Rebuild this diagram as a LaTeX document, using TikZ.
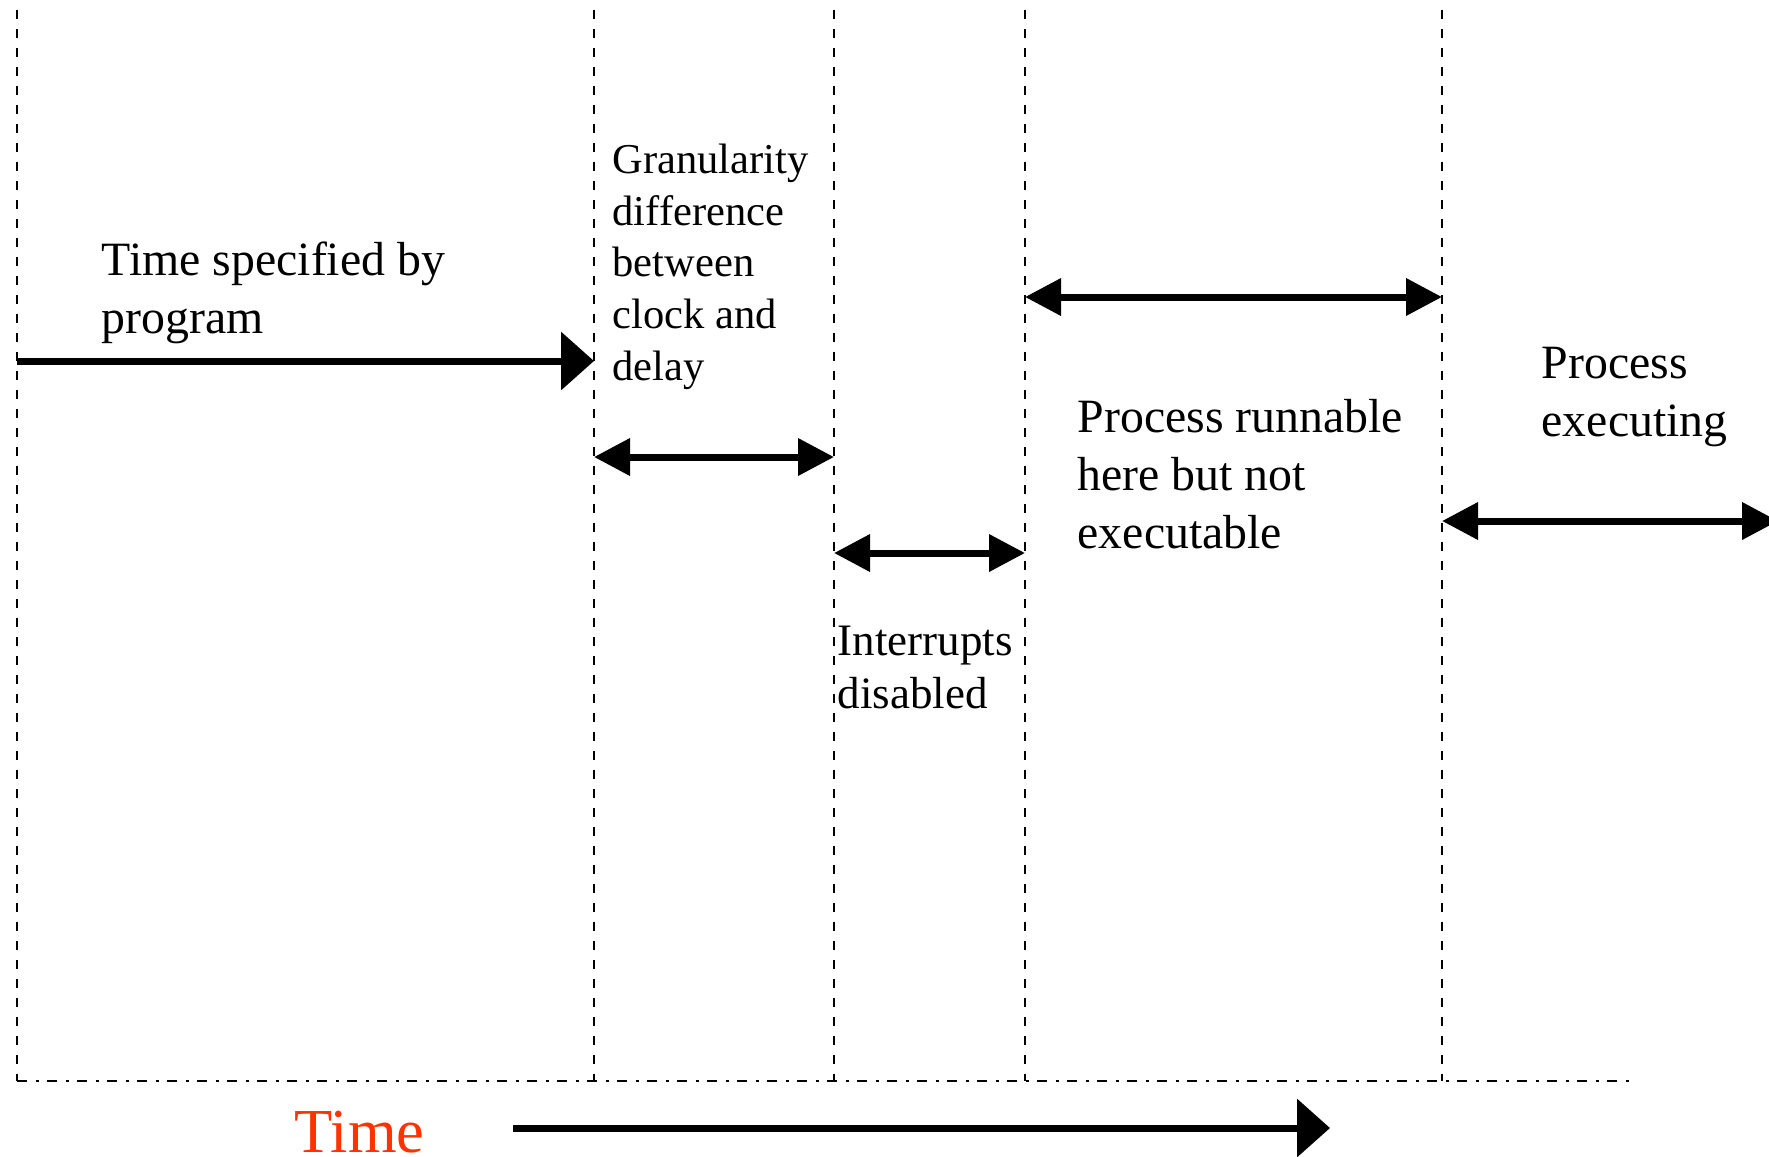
\documentclass[tikz,border=0pt]{standalone}
\usepackage{fontspec}
\setmainfont{Liberation Serif}
\usetikzlibrary{arrows.meta}
\definecolor{timered}{HTML}{FF3300}
\tikzset{
  tguide/.style={draw=black, line width=0.75pt,
                 dash pattern=on 0.9mm off 1.0mm, dash phase=0.9mm},
  taxis/.style={draw=black, line width=0.75pt,
                dash pattern=on 1mm off 0.9mm on 0.3mm off 0.8mm},
  tarrow/.style={-{Triangle[length=3.3mm,width=5.7mm]}, line width=0.7mm},
  tspan/.style={{Triangle[length=3.6mm,width=3.6mm]}-{Triangle[length=3.6mm,width=3.6mm]},
                line width=0.7mm},
  tlabel/.style={anchor=base west, inner sep=0pt, align=left,
                 font=\fontsize{13.6}{16.4}\selectfont},
  tsmall/.style={tlabel, font=\fontsize{12.1}{14.7}\selectfont},
}

\begin{document}
\begin{tikzpicture}[x=0.1mm, y=-0.1mm]
  \useasboundingbox (0,0) rectangle (1769,1156);

  % --- time marks ---
  \coordinate (m0)   at (  17,0);
  \coordinate (m1)   at ( 594,0);
  \coordinate (m2)   at ( 834,0);
  \coordinate (m3)   at (1025,0);
  \coordinate (m4)   at (1442,0);
  \coordinate (base) at (0,1081);
  \coordinate (axisend) at (1636,1081);
  \foreach \m in {m0,m1,m2,m3,m4}
    \draw[tguide] (\m) -- (\m |- base);
  \draw[taxis] (m0 |- base) -- (axisend);

  % --- spans between the marks ---
  \coordinate (yprog) at (0,361);
  \coordinate (yrun)  at (0,297);
  \coordinate (ygran) at (0,457);
  \coordinate (yexec) at (0,521);
  \coordinate (yintr) at (0,553);
  \coordinate (execend) at (1778,521);
  \draw[tarrow] (m0 |- yprog) -- (m1 |- yprog);
  \draw[tspan]  (m1 |- ygran) -- (m2 |- ygran);
  \draw[tspan]  (m2 |- yintr) -- (m3 |- yintr);
  \draw[tspan]  (m3 |- yrun)  -- (m4 |- yrun);
  \draw[tspan]  (m4 |- yexec) -- (execend);

  % --- labels (placed at the baseline of their last line) ---
  \node[tlabel] (prog) at ( 101,333) {Time specified by\\program};
  \node[tsmall] (gran) at ( 612,380) {Granularity\\difference\\between\\clock and\\delay};
  \node[tlabel, font=\fontsize{12.8}{15}\selectfont] (intr) at (837,708) {Interrupts\\disabled};
  \node[tlabel] (run)  at (1077,548) {Process runnable\\here but not\\executable};
  \node[tlabel] (exec) at (1541,436) {Process\\executing};

  % --- time axis ---
  \node[tlabel, font=\fontsize{17.8}{20}\selectfont, text=timered] (time) at (294,1152) {Time};
  \coordinate (tstart) at ( 513,1128);
  \coordinate (tend)   at (1330,1128);
  \draw[tarrow] (tstart) -- (tend);
\end{tikzpicture}
\end{document}
